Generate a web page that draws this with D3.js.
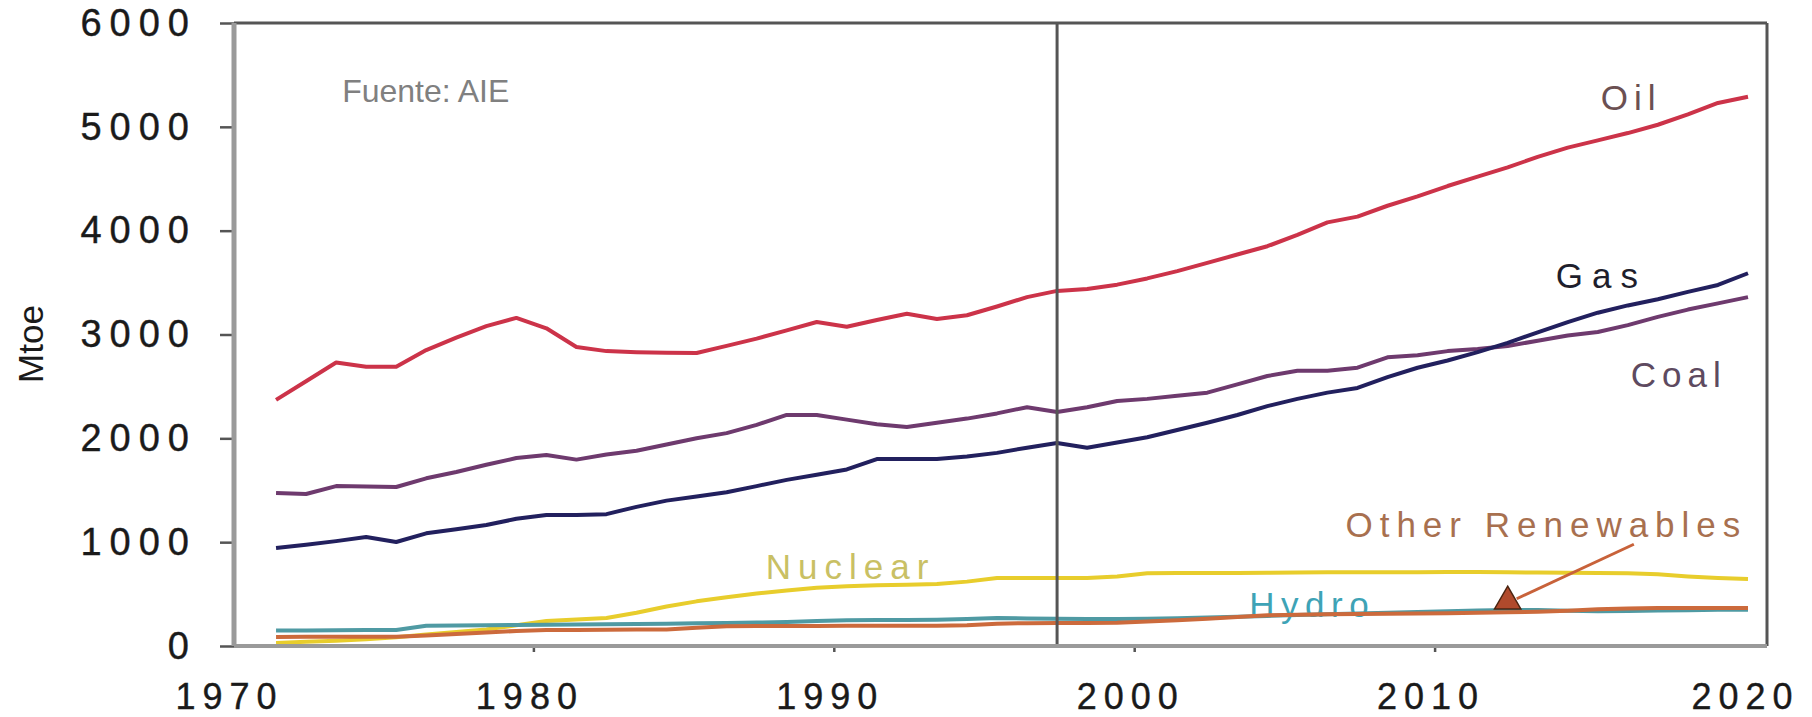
<!DOCTYPE html>
<html>
<head>
<meta charset="utf-8">
<script src="https://cdn.jsdelivr.net/npm/d3@7"></script>
<style>
    body { margin: 0; background: #fff; }
    text { font-family: Arial, "Liberation Sans", sans-serif; }
</style>
</head>
<body>
<div id="chart"></div>
<script>

// ---- data (Mtoe) ----
const years = [1971, 1972, 1973, 1974, 1975, 1976, 1977, 1978, 1979, 1980,
               1981, 1982, 1983, 1984, 1985, 1986, 1987, 1988, 1989, 1990,
               1991, 1992, 1993, 1994, 1995, 1996, 1997, 1998, 1999, 2000,
               2001, 2002, 2003, 2004, 2005, 2006, 2007, 2008, 2009, 2010,
               2011, 2012, 2013, 2014, 2015, 2016, 2017, 2018, 2019, 2020];

const oil = [2370, 2550, 2730, 2690, 2690, 2850, 2970, 3080, 3160, 3060,
             2880, 2840, 2830, 2825, 2822, 2890, 2960, 3040, 3120, 3075,
             3140, 3200, 3150, 3185, 3270, 3360, 3420, 3438, 3480, 3540,
             3610, 3690, 3770, 3850, 3960, 4080, 4135, 4240, 4330, 4430,
             4520, 4610, 4710, 4800, 4870, 4940, 5020, 5120, 5230, 5290];

const coal = [1473, 1464, 1540, 1536, 1531, 1615, 1676, 1745, 1810, 1840,
              1795, 1845, 1880, 1940, 2000, 2050, 2130, 2225, 2225, 2180,
              2135, 2110, 2150, 2190, 2240, 2300, 2254, 2300, 2360, 2380,
              2410, 2440, 2520, 2600, 2650, 2650, 2680, 2780, 2800, 2840,
              2860, 2890, 2940, 2990, 3024, 3090, 3170, 3240, 3300, 3360];

const gas = [944, 975, 1010, 1050, 1002, 1085, 1125, 1165, 1225, 1262,
             1262, 1270, 1340, 1400, 1440, 1480, 1540, 1600, 1650, 1700,
             1800, 1800, 1800, 1825, 1860, 1910, 1955, 1910, 1960, 2010,
             2080, 2150, 2225, 2310, 2380, 2440, 2485, 2590, 2680, 2750,
             2830, 2920, 3020, 3120, 3210, 3280, 3340, 3410, 3477, 3590];

const nuclear = [30, 40, 50, 65, 85, 110, 135, 160, 200, 240,
                 255, 270, 320, 380, 430, 470, 505, 535, 560, 575,
                 585, 590, 597, 620, 655, 655, 655, 655, 670, 700,
                 703, 703, 703, 705, 708, 710, 710, 710, 710, 712,
                 712, 710, 708, 705, 702, 700, 690, 670, 655, 645];

const hydro = [150, 150, 152, 153, 155, 195, 198, 200, 202, 205,
               208, 210, 212, 215, 218, 222, 226, 232, 240, 248,
               250, 250, 252, 260, 270, 265, 262, 260, 260, 262,
               268, 275, 282, 290, 298, 305, 312, 320, 328, 335,
               342, 347, 347, 340, 335, 338, 342, 345, 348, 350];

const otherRenewables = [87, 88, 88, 89, 90, 100, 115, 130, 145, 154,
                         155, 156, 158, 160, 175, 190, 192, 193, 193, 194,
                         195, 195, 196, 200, 215, 220, 221, 222, 225, 235,
                         248, 262, 280, 295, 300, 305, 308, 310, 312, 315,
                         320, 325, 330, 340, 355, 362, 365, 366, 366, 366];

const seriesNames = ["Oil", "Coal", "Gas", "Nuclear", "Hydro", "Other Renewables"];
const seriesValues = [oil, coal, gas, nuclear, hydro, otherRenewables];

const xTicks = [1970, 1980, 1990, 2000, 2010, 2020];
const yTicks = [0, 1000, 2000, 3000, 4000, 5000, 6000];
const projectionStart = 1997;
const yLabel = "Mtoe";
const sourceNote = "Fuente: AIE";

// ---- styles ----
const lineColors = ["#cc3349", "#6e3a6e", "#22205e", "#e8cd2c", "#4f9aa3", "#cc6a3c"];

// text labels, placed in data coordinates
const annotations = [
    {text: "Oil",              year: 2015.1, value: 5160, color: "#6b5052", spacing: 6},
    {text: "Gas",              year: 2013.6, value: 3450, color: "#1e1e2c", spacing: 9},
    {text: "Coal",             year: 2016.1, value: 2495, color: "#5e4a60", spacing: 6},
    {text: "Nuclear",          year: 1987.3, value: 645,  color: "#c9c064", spacing: 7},
    {text: "Hydro",            year: 2003.4, value: 279,  color: "#3ea3b6", spacing: 6.5},
    {text: "Other Renewables", year: 2006.6, value: 1050, color: "#a8704f", spacing: 7},
    {text: sourceNote,         year: 1973.2, value: 5240, color: "#808080", spacing: 0, size: 32}
];

// ---- chart ----
const totalWidth = 1812, totalHeight = 717;
const margin = {top: 23, right: 45, bottom: 71, left: 234};
const width = totalWidth - margin.left - margin.right;
const height = totalHeight - margin.top - margin.bottom;

const svg = d3.select("#chart")
    .append("svg")
    .attr("width", totalWidth)
    .attr("height", totalHeight)
    .append("g")
    .attr("transform", `translate(${margin.left}, ${margin.top})`);

// the curves sit a little inside the frame
const x = d3.scaleLinear()
    .domain([1970, 2020])
    .range([12, width - 19]);

const y = d3.scaleLinear()
    .domain([0, 6000])
    .range([height, 0]);

// y axis
const gy = svg.append("g")
    .call(d3.axisLeft(y).tickValues(yTicks).tickSize(14).tickPadding(23).tickFormat(d3.format("d")));
gy.select(".domain").remove();
gy.selectAll(".tick line").attr("stroke", "#555").attr("stroke-width", 2.5);
gy.selectAll(".tick text")
    .attr("font-size", 38)
    .attr("font-family", "Arial, 'Liberation Sans', sans-serif")
    .attr("fill", "#1a1a1a")
    .attr("stroke", "#1a1a1a")
    .attr("stroke-width", 0.4)
    .style("letter-spacing", "8px");

// x axis (the year marks sit slightly left of the plotted years in the original)
const gx = svg.append("g")
    .attr("transform", `translate(-13, ${height})`)
    .call(d3.axisBottom(x).tickValues(xTicks).tickSize(6).tickPadding(31).tickFormat(d3.format("d")));
gx.select(".domain").remove();
gx.selectAll(".tick line")
    .attr("stroke", "#555")
    .attr("stroke-width", 2.5)
    .attr("opacity", d => (d === 1970 || d === 2020) ? 0 : 1);
gx.selectAll(".tick text")
    .attr("font-size", 36)
    .attr("font-family", "Arial, 'Liberation Sans', sans-serif")
    .attr("fill", "#1a1a1a")
    .attr("stroke", "#1a1a1a")
    .attr("stroke-width", 0.4)
    .attr("dx", d => d === 2020 ? 10 : -4)
    .style("letter-spacing", "7px");

// y axis title
svg.append("text")
    .attr("transform", `translate(${43 - margin.left}, ${344 - margin.top}) rotate(-90)`)
    .attr("text-anchor", "middle")
    .attr("font-size", 35)
    .attr("fill", "#1a1a1a")
    .text(yLabel);

// labels (drawn under the lines, like the original)
svg.selectAll(".label")
    .data(annotations)
    .enter()
    .append("text")
    .attr("class", "label")
    .attr("x", d => x(d.year))
    .attr("y", d => y(d.value))
    .attr("font-size", d => d.size || 35)
    .attr("fill", d => d.color)
    .style("letter-spacing", d => d.spacing + "px")
    .text(d => d.text);

// lines
const line = d3.line()
    .x((d, i) => x(years[i]))
    .y(d => y(d));

svg.selectAll(".series")
    .data(seriesValues)
    .enter()
    .append("path")
    .attr("class", "series")
    .attr("fill", "none")
    .attr("stroke", (d, i) => lineColors[i])
    .attr("stroke-width", 4)
    .attr("stroke-linejoin", "round")
    .attr("d", line);

// arrow pointing at the Other Renewables curve
svg.append("line")
    .attr("x1", x(2016.2)).attr("y1", y(980))
    .attr("x2", x(2012.3)).attr("y2", y(455))
    .attr("stroke", "#c8623a")
    .attr("stroke-width", 3);

svg.append("path")
    .attr("d", d3.symbol().type(d3.symbolTriangle).size(300))
    .attr("transform", `translate(${x(2012)}, ${y(430)})`)
    .attr("fill", "#b04a2c")
    .attr("stroke", "#4a2410")
    .attr("stroke-width", 1.5);

// projection divider
svg.append("line")
    .attr("x1", x(projectionStart)).attr("x2", x(projectionStart))
    .attr("y1", 0).attr("y2", height)
    .attr("stroke", "#555")
    .attr("stroke-width", 3);

// frame
svg.append("line").attr("x1", 0).attr("x2", width).attr("y1", 0).attr("y2", 0)
    .attr("stroke", "#555").attr("stroke-width", 3);
svg.append("line").attr("x1", width).attr("x2", width).attr("y1", 0).attr("y2", height)
    .attr("stroke", "#555").attr("stroke-width", 3);
svg.append("line").attr("x1", 0).attr("x2", width).attr("y1", height).attr("y2", height)
    .attr("stroke", "#9a9a9a").attr("stroke-width", 4);
svg.append("line").attr("x1", 0).attr("x2", 0).attr("y1", 0).attr("y2", height)
    .attr("stroke", "#9a9a9a").attr("stroke-width", 5);

</script>
</body>
</html>
